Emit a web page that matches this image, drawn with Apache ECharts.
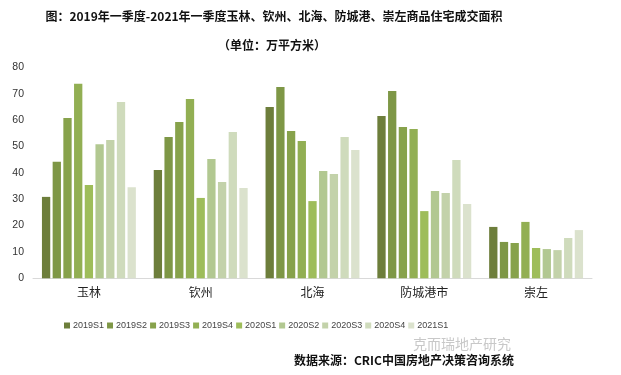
<!DOCTYPE html>
<html><head><meta charset="utf-8">
<script src="https://cdn.jsdelivr.net/npm/echarts@6/dist/echarts.min.js"></script>
<style>html,body{margin:0;padding:0;background:#fff}#c{width:621px;height:375px}</style>
</head><body><div id="c"></div>
<script>
const categories = ['玉林', '钦州', '北海', '防城港市', '崇左'];
const seriesNames = ['2019S1','2019S2','2019S3','2019S4','2020S1','2020S2','2020S3','2020S4','2021S1'];
const colors = ['#6d7e3b','#7e9746','#87a24b','#92af53','#9ebd5a','#b2c891','#c3d2aa','#cfdbbc','#dbe2cd'];
const s2019S1 = [30.9, 41.1, 65.0, 61.6, 19.5];
const s2019S2 = [44.2, 53.6, 72.6, 71.1, 13.8];
const s2019S3 = [60.8, 59.3, 55.9, 57.4, 13.4];
const s2019S4 = [73.8, 68.0, 52.1, 56.7, 21.4];
const s2020S1 = [35.4, 30.5, 29.3, 25.5, 11.5];
const s2020S2 = [50.9, 45.3, 40.7, 33.1, 11.1];
const s2020S3 = [52.5, 36.5, 39.6, 32.4, 10.7];
const s2020S4 = [66.9, 55.5, 53.6, 44.9, 15.3];
const s2021S1 = [34.6, 34.3, 48.7, 28.2, 18.3];
const yTicks = [0, 10, 20, 30, 40, 50, 60, 70, 80];
const allData = [s2019S1,s2019S2,s2019S3,s2019S4,s2020S1,s2020S2,s2020S3,s2020S4,s2021S1];

const chart = echarts.init(document.getElementById('c'), null, {renderer:'canvas'});
chart.setOption({
  animation: false,
  color: colors,
  title: [
    {text: '图：2019年一季度-2021年一季度玉林、钦州、北海、防城港、崇左商品住宅成交面积', left: 269, top: 5, textAlign: 'center',
     textStyle: {fontSize: 12, fontWeight: 'bold', color: '#111', fontFamily: 'Noto Sans CJK SC'}},
    {text: '（单位：万平方米）', left: 267, top: 34, textAlign: 'center',
     textStyle: {fontSize: 12, fontWeight: 'bold', color: '#111', fontFamily: 'Noto Sans CJK SC'}}
  ],
  grid: {left: 33, right: 29, top: 67.5, bottom: 96.7, containLabel: false},
  legend: {
    data: seriesNames, left: 59, top: 316, itemWidth: 6, itemHeight: 6, itemGap: 3,
    icon: 'rect', textStyle: {fontSize: 9, color: '#444', fontFamily: 'Liberation Sans', padding: [0,0,0,-2]}
  },
  xAxis: {
    type: 'category', data: categories,
    axisLine: {lineStyle: {color: '#d9d9d9', width: 1}},
    axisTick: {show: false},
    axisLabel: {fontSize: 12, color: '#222', margin: 8, fontFamily: 'Noto Sans CJK SC'}
  },
  yAxis: {
    type: 'value', min: 0, max: 80, interval: 10,
    axisLine: {show: false}, axisTick: {show: false}, splitLine: {show: false},
    axisLabel: {fontSize: 10.5, color: '#333', margin: 9, fontFamily: 'Liberation Sans',
      formatter: v => yTicks.includes(v) ? String(v) : ''}
  },
  series: seriesNames.map((n, i) => ({
    name: n, type: 'bar', data: allData[i], barGap: '29%', barCategoryGap: '16%'
  })),
  graphic: [
    {type: 'text', left: 413, top: 337, style: {text: '克而瑞地产研究', fontSize: 14, fill: '#c8c8c8', fontFamily: 'Noto Sans CJK SC'}},
    {type: 'text', left: 294, top: 354, style: {text: '数据来源：CRIC中国房地产决策咨询系统', fontSize: 12, fontWeight: 'bold', fill: '#111', fontFamily: 'Noto Sans CJK SC'}}
  ]
});
</script></body></html>
